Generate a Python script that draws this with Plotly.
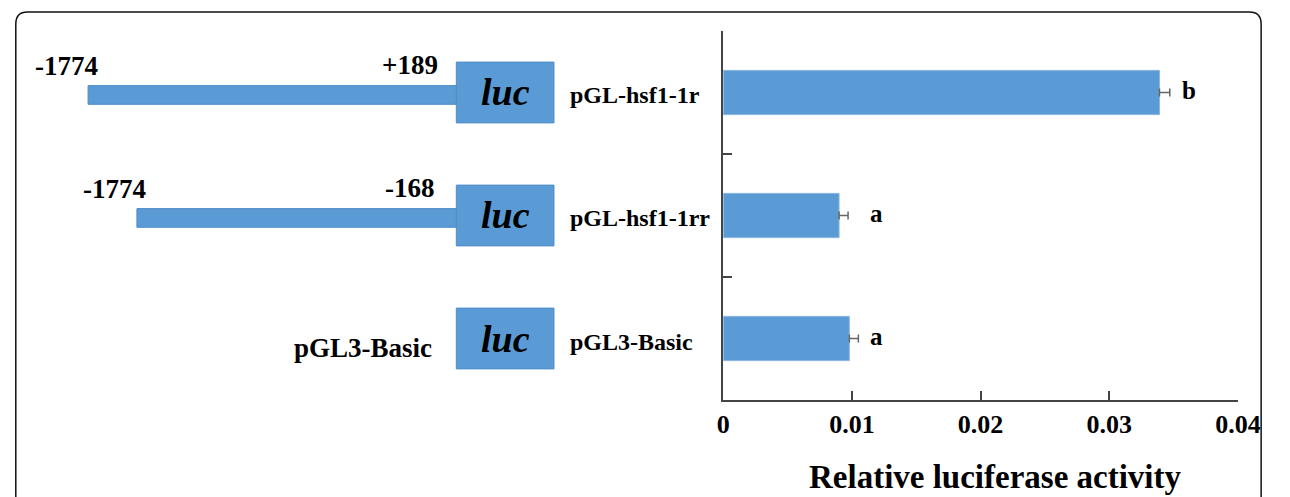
import plotly.graph_objects as go

# ---------------- data ----------------
categories = ["pGL-hsf1-1r", "pGL-hsf1-1rr", "pGL3-Basic"]
activity = [0.0339, 0.0090, 0.0098]
activity_err = [0.0008, 0.0007, 0.0007]
sig_letters = ["b", "a", "a"]
x_tick_vals = [0, 0.01, 0.02, 0.03, 0.04]
x_tick_text = ["0", "0.01", "0.02", "0.03", "0.04"]
start_labels = ["-1774", "-1774", ""]
end_labels = ["+189", "-168", ""]
vector_labels = ["", "", "pGL3-Basic"]
reporter_label = "luc"
x_title = "Relative luciferase activity"

# ---------------- geometry helpers (pixels -> paper) ----------------
W, H = 1290, 497
def px(x):
    return x / W
def py(y):
    return 1 - y / H

FONT = "Liberation Serif, Times New Roman, serif"
BLUE = "#5B9BD5"

fig = go.Figure()
fig.add_trace(go.Bar(
    y=categories, x=activity, orientation="h", width=0.36,
    marker=dict(color=BLUE, line=dict(color="#8DB8E4", width=1)),
    error_x=dict(type="data", symmetric=False, array=activity_err,
                 arrayminus=[0] * len(activity_err), color="#666666",
                 thickness=1.5, width=4),
    hoverinfo="skip",
))

annotations = []
shapes = []

# category labels, left-aligned between the schematic and the axis
for i, c in enumerate(categories):
    annotations.append(dict(
        x=px(574), xref="paper", xanchor="left",
        y=c, yref="y", yanchor="middle", yshift=-3,
        text=f"<b>{c}</b>", showarrow=False,
        font=dict(family=FONT, size=24, color="black")))

# significance letters next to the error bars
letter_shift = [10, 20, 10]
for i, c in enumerate(categories):
    annotations.append(dict(
        x=activity[i] + activity_err[i], xref="x", xanchor="left",
        xshift=letter_shift[i],
        y=c, yref="y", yanchor="middle", yshift=2,
        text=f"<b>{sig_letters[i]}</b>", showarrow=False,
        font=dict(family=FONT, size=25, color="black")))

# x-axis title
annotations.append(dict(
    x=px(1012), xref="paper", xanchor="center",
    y=py(477), yref="paper", yanchor="middle",
    text=f"<b>{x_title}</b>", showarrow=False,
    font=dict(family=FONT, size=33, color="black")))

# schematic constructs, one per row
promoter_start_px = [83, 133, None]
luc_x0, luc_x1 = 460, 560
for i, c in enumerate(categories):
    shapes.append(dict(type="rect", xref="paper", yref="y",
                       x0=px(luc_x0), x1=px(luc_x1), y0=i - 0.247, y1=i + 0.247,
                       fillcolor=BLUE, line=dict(color="#4F8CC6", width=1), layer="above"))
    annotations.append(dict(
        x=px((luc_x0 + luc_x1) / 2), xref="paper", xanchor="center",
        y=c, yref="y", yanchor="middle",
        text=f"<b><i>{reporter_label}</i></b>", showarrow=False,
        font=dict(family=FONT, size=38, color="black")))
    if promoter_start_px[i] is not None:
        shapes.append(dict(type="rect", xref="paper", yref="y",
                           x0=px(promoter_start_px[i]), x1=px(luc_x0),
                           y0=i - 0.076 + 0.02, y1=i + 0.076 + 0.02,
                           fillcolor=BLUE, line=dict(color="#4F8CC6", width=1)))
    if start_labels[i]:
        annotations.append(dict(
            x=px(promoter_start_px[i]), xref="paper", xanchor="center", xshift=-22,
            y=c, yref="y", yanchor="middle", yshift=26,
            text=f"<b>{start_labels[i]}</b>", showarrow=False,
            font=dict(family=FONT, size=27, color="black")))
    if end_labels[i]:
        annotations.append(dict(
            x=px(413), xref="paper", xanchor="center",
            y=c, yref="y", yanchor="middle", yshift=27,
            text=f"<b>{end_labels[i]}</b>", showarrow=False,
            font=dict(family=FONT, size=27, color="black")))
    if vector_labels[i]:
        annotations.append(dict(
            x=px(437), xref="paper", xanchor="right",
            y=c, yref="y", yanchor="middle", yshift=-9,
            text=f"<b>{vector_labels[i]}</b>", showarrow=False,
            font=dict(family=FONT, size=27, color="black")))

# rounded outer frame (open at the bottom)
x0f, x1f, ytf, r, ybf = 9, 1284, 12, 12, 520
frame_path = (f"M {px(x0f)},{py(ybf)} L {px(x0f)},{py(ytf + r)} "
              f"Q {px(x0f)},{py(ytf)} {px(x0f + r)},{py(ytf)} "
              f"L {px(x1f - r)},{py(ytf)} "
              f"Q {px(x1f)},{py(ytf)} {px(x1f)},{py(ytf + r)} "
              f"L {px(x1f)},{py(ybf)}")
shapes.append(dict(type="path", xref="paper", yref="paper", path=frame_path,
                   line=dict(color="#111111", width=1.5)))

fig.update_layout(
    width=W, height=H,
    margin=dict(l=0, r=0, t=0, b=0),
    paper_bgcolor="white", plot_bgcolor="white",
    showlegend=False, hovermode=False,
    annotations=annotations, shapes=shapes,
    xaxis=dict(domain=[px(733.3), px(1260.3)], range=[0, 0.04],
               tickvals=x_tick_vals, ticktext=x_tick_text,
               ticks="inside", ticklen=9, tickwidth=1.5, tickcolor="#444444",
               showline=True, linecolor="#444444", linewidth=1.5,
               showgrid=False, zeroline=False,
               tickfont=dict(family=FONT, size=26, color="black", weight="bold"),
               fixedrange=True),
    yaxis=dict(domain=[py(400), py(31)], type="category",
               categoryorder="array", categoryarray=categories,
               range=[2.5, -0.5],
               showticklabels=False, ticks="inside", tickson="boundaries",
               ticklen=9, tickwidth=1.5, tickcolor="#444444",
               showline=True, linecolor="#444444", linewidth=1.5,
               showgrid=False, zeroline=False, fixedrange=True),
)

fig.write_html(
    "out.html",
    config={"displayModeBar": False, "responsive": False},
    post_script="document.body.style.margin='0';document.body.style.overflow='hidden';",
)
